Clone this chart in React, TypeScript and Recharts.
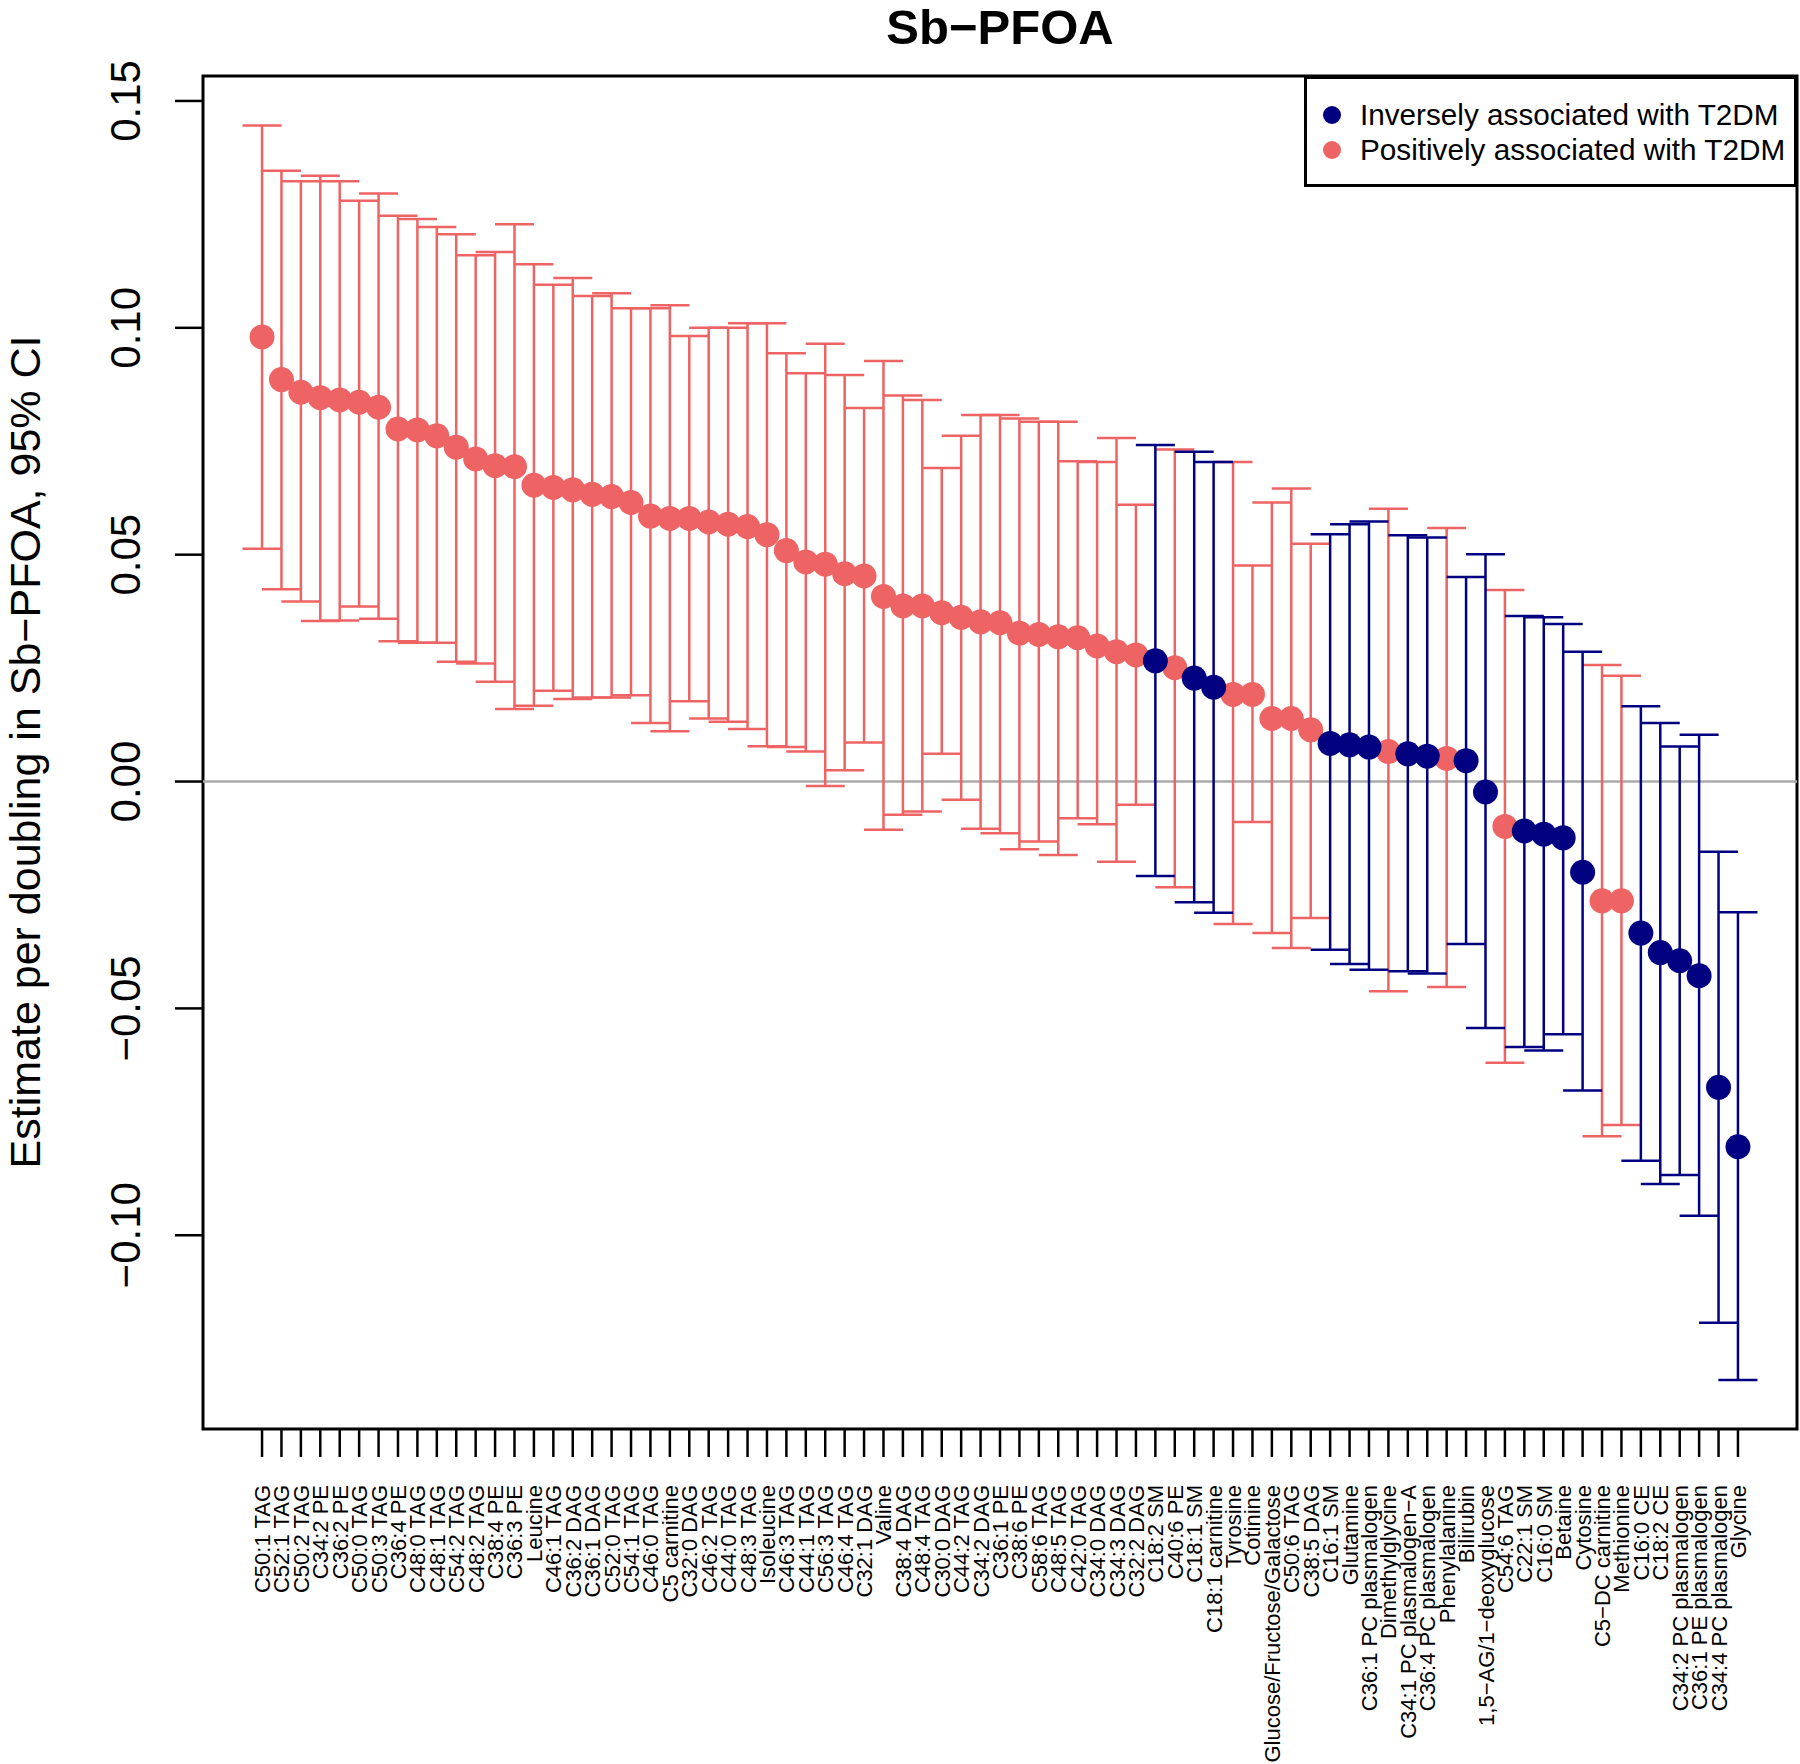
import React from "react";
import {
  ScatterChart,
  Scatter,
  XAxis,
  YAxis,
  ErrorBar,
  ReferenceLine,
  ReferenceArea,
  Legend,
} from "recharts";

const metabolites = [
  "C50:1 TAG", "C52:1 TAG", "C50:2 TAG", "C34:2 PE", "C36:2 PE", "C50:0 TAG", "C50:3 TAG",
  "C36:4 PE", "C48:0 TAG", "C48:1 TAG", "C54:2 TAG", "C48:2 TAG", "C38:4 PE", "C36:3 PE",
  "Leucine", "C46:1 TAG", "C36:2 DAG", "C36:1 DAG", "C52:0 TAG", "C54:1 TAG", "C46:0 TAG",
  "C5 carnitine", "C32:0 DAG", "C46:2 TAG", "C44:0 TAG", "C48:3 TAG", "Isoleucine",
  "C46:3 TAG", "C44:1 TAG", "C56:3 TAG", "C46:4 TAG", "C32:1 DAG", "Valine", "C38:4 DAG",
  "C48:4 TAG", "C30:0 DAG", "C44:2 TAG", "C34:2 DAG", "C36:1 PE", "C38:6 PE", "C58:6 TAG",
  "C48:5 TAG", "C42:0 TAG", "C34:0 DAG", "C34:3 DAG", "C32:2 DAG", "C18:2 SM", "C40:6 PE",
  "C18:1 SM", "C18:1 carnitine", "Tyrosine", "Cotinine", "Glucose/Fructose/Galactose",
  "C50:6 TAG", "C38:5 DAG", "C16:1 SM", "Glutamine", "C36:1 PC plasmalogen",
  "Dimethylglycine", "C34:1 PC plasmalogen\u2212A", "C36:4 PC plasmalogen", "Phenylalanine",
  "Bilirubin", "1,5\u2212AG/1\u2212deoxyglucose", "C54:6 TAG", "C22:1 SM", "C16:0 SM",
  "Betaine", "Cytosine", "C5\u2212DC carnitine", "Methionine", "C16:0 CE", "C18:2 CE",
  "C34:2 PC plasmalogen", "C36:1 PE plasmalogen", "C34:4 PC plasmalogen", "Glycine",
];

const estimates = [
  0.098, 0.0886, 0.0858, 0.0846, 0.0841, 0.0836, 0.0825, 0.0777, 0.0775, 0.0762,
  0.0737, 0.0711, 0.0696, 0.0694, 0.0653, 0.0648, 0.0643, 0.0633, 0.0628, 0.0615,
  0.0585, 0.058, 0.058, 0.0572, 0.0567, 0.0562, 0.0544, 0.0509, 0.0484, 0.0479,
  0.0458, 0.0453, 0.0408, 0.0387, 0.0387, 0.0372, 0.0362, 0.0352, 0.035, 0.0327,
  0.0324, 0.0319, 0.0317, 0.0299, 0.0286, 0.0279, 0.0266, 0.0251, 0.0228, 0.0208,
  0.0192, 0.0192, 0.0139, 0.0139, 0.0114, 0.0084, 0.0081, 0.0076, 0.0066, 0.0061,
  0.0056, 0.0051, 0.0046, -0.0023, -0.0099, -0.0109, -0.0116, -0.0124, -0.02, -0.0263,
  -0.0263, -0.0334, -0.0377, -0.0395, -0.0428, -0.0674, -0.0805,
];

const upperCI = [
  0.1446, 0.1346, 0.1323, 0.1335, 0.1323, 0.128, 0.1296, 0.1247, 0.124, 0.1222,
  0.1206, 0.116, 0.1167, 0.1228, 0.114, 0.1095, 0.111, 0.107, 0.1076, 0.1043,
  0.1043, 0.105, 0.0982, 0.1, 0.1, 0.101, 0.101, 0.0944, 0.09, 0.0965,
  0.0896, 0.0823, 0.0927, 0.0851, 0.0841, 0.0691, 0.0762, 0.0808, 0.0808, 0.08,
  0.0793, 0.0793, 0.0706, 0.0704, 0.0757, 0.061, 0.0742, 0.0732, 0.0727, 0.0704,
  0.0704, 0.0476, 0.0615, 0.0646, 0.0524, 0.0545, 0.0567, 0.0573, 0.0601, 0.0543,
  0.0538, 0.0559, 0.0451, 0.0501, 0.0422, 0.0365, 0.0362, 0.0347, 0.0286, 0.0257,
  0.0233, 0.0166, 0.0129, 0.0077, 0.0103, -0.0155, -0.0288,
];

const lowerCI = [
  0.0513, 0.0424, 0.0397, 0.0354, 0.0355, 0.0386, 0.0359, 0.0309, 0.0306, 0.0306,
  0.0264, 0.026, 0.022, 0.016, 0.0167, 0.02, 0.0182, 0.0185, 0.0185, 0.019,
  0.0129, 0.0111, 0.0177, 0.0139, 0.0132, 0.0116, 0.0078, 0.0076, 0.0066, -0.001,
  0.0025, 0.0086, -0.0106, -0.0073, -0.0066, 0.0061, -0.004, -0.0104, -0.0114, -0.0149,
  -0.0132, -0.0162, -0.0081, -0.0094, -0.0177, -0.0051, -0.0208, -0.0233, -0.0266, -0.0289,
  -0.0314, -0.0089, -0.0334, -0.0367, -0.0301, -0.0371, -0.0402, -0.0415, -0.0462, -0.0418,
  -0.0423, -0.0453, -0.0358, -0.0543, -0.062, -0.0585, -0.0593, -0.0557, -0.0681, -0.0782,
  -0.0757, -0.0836, -0.0887, -0.0867, -0.0957, -0.1193, -0.1319,
];

// "inv" = inversely associated with T2DM, "pos" = positively associated
const association = [
  "pos", "pos", "pos", "pos", "pos", "pos", "pos", "pos", "pos", "pos",
  "pos", "pos", "pos", "pos", "pos", "pos", "pos", "pos", "pos", "pos",
  "pos", "pos", "pos", "pos", "pos", "pos", "pos", "pos", "pos", "pos",
  "pos", "pos", "pos", "pos", "pos", "pos", "pos", "pos", "pos", "pos",
  "pos", "pos", "pos", "pos", "pos", "pos", "inv", "pos", "inv", "inv",
  "pos", "pos", "pos", "pos", "pos", "inv", "inv", "inv", "pos", "inv",
  "inv", "pos", "inv", "inv", "pos", "inv", "inv", "inv", "inv", "pos",
  "pos", "inv", "inv", "inv", "inv", "inv", "inv",
];

const yTicks = [-0.1, -0.05, 0, 0.05, 0.1, 0.15];
const xTicks = metabolites.map((_, i) => i + 1);

const RED = "#EE6363";
const NAVY = "#000080";
const FONT = "'Liberation Sans', Arial, Helvetica, sans-serif";

const X_MIN = -2.04;
const X_MAX = 80.04;
const Y_MIN = -0.1427;
const Y_MAX = 0.1555;

const rows = metabolites.map((name, i) => ({
  x: i + 1,
  y: estimates[i],
  err: [estimates[i] - lowerCI[i], upperCI[i] - estimates[i]],
  group: association[i],
  name,
}));
const posRows = rows.filter((r) => r.group === "pos");
const invRows = rows.filter((r) => r.group === "inv");

const XTick = (props: any) => {
  const { x, y, payload } = props;
  const label = metabolites[payload.value - 1];
  return (
    <text
      transform={`translate(${x + 8},${y}) rotate(-90)`}
      textAnchor="end"
      fontSize={22}
      fontFamily={FONT}
      fill="#000"
    >
      {label}
    </text>
  );
};

const YTick = (props: any) => {
  const { x, y, payload } = props;
  const label = payload.value.toFixed(2).replace("-", "\u2212");
  return (
    <text
      transform={`translate(${x},${y}) rotate(-90)`}
      textAnchor="middle"
      fontSize={42}
      fontFamily={FONT}
      fill="#000"
    >
      {label}
    </text>
  );
};

const noShape = () => <g />;
const dot = (color: string) => (props: any) =>
  <circle cx={props.cx} cy={props.cy} r={12.5} fill={color} />;

const LegendBox = () => (
  <svg width={493} height={111}>
    <rect x={1.5} y={1.5} width={490} height={108} fill="#fff" stroke="#000" strokeWidth={3} />
    <circle cx={28} cy={39} r={9} fill={NAVY} />
    <circle cx={28} cy={74} r={9} fill={RED} />
    <text x={56} y={49} fontSize={29.7} fontFamily={FONT} fill="#000">
      Inversely associated with T2DM
    </text>
    <text x={56} y={84} fontSize={29.7} fontFamily={FONT} fill="#000">
      Positively associated with T2DM
    </text>
  </svg>
);

const App = () => {
  return (
    <div style={{ position: "absolute", left: 0, top: 0, width: 1800, height: 1764, background: "#fff" }}>
      <ScatterChart
        width={1800}
        height={1764}
        margin={{ top: 76, right: 3, bottom: 0, left: 0 }}
      >
        <XAxis
          type="number"
          dataKey="x"
          domain={[X_MIN, X_MAX]}
          ticks={xTicks}
          interval={0}
          allowDataOverflow
          height={335}
          axisLine={false}
          tickSize={28}
          tickMargin={28}
          tickLine={{ stroke: "#000", strokeWidth: 2.5 }}
          tick={<XTick />}
        />
        <YAxis
          type="number"
          dataKey="y"
          domain={[Y_MIN, Y_MAX]}
          ticks={yTicks}
          allowDataOverflow
          width={203}
          axisLine={false}
          tickSize={28}
          tickMargin={35}
          tickLine={{ stroke: "#000", strokeWidth: 2.5 }}
          tick={<YTick />}
        />
        <ReferenceLine y={0} stroke="#aaaaaa" strokeWidth={2.5} />
        <Scatter data={posRows} fill={RED} shape={noShape} isAnimationActive={false}>
          <ErrorBar dataKey="err" direction="y" width={19.5} stroke={RED} strokeWidth={2.5} isAnimationActive={false} />
        </Scatter>
        <Scatter data={invRows} fill={NAVY} shape={noShape} isAnimationActive={false}>
          <ErrorBar dataKey="err" direction="y" width={19.5} stroke={NAVY} strokeWidth={2.5} isAnimationActive={false} />
        </Scatter>
        <Scatter data={posRows} fill={RED} shape={dot(RED)} isAnimationActive={false} />
        <Scatter data={invRows} fill={NAVY} shape={dot(NAVY)} isAnimationActive={false} />
        <ReferenceArea
          x1={X_MIN}
          x2={X_MAX}
          y1={Y_MIN}
          y2={Y_MAX}
          fill="none"
          stroke="#000"
          strokeWidth={3}
          ifOverflow="visible"
        />
        <Legend
          layout="horizontal"
          verticalAlign="middle"
          align="center"
          wrapperStyle={{ left: 1304, top: 76, width: 493, height: 111 }}
          content={() => <LegendBox />}
        />
      </ScatterChart>
      <svg
        width={1800}
        height={1764}
        style={{ position: "absolute", left: 0, top: 0, pointerEvents: "none" }}
      >
        <text x={1000} y={44} textAnchor="middle" fontSize={49} fontWeight="bold" fontFamily={FONT} fill="#000">
          Sb{"\u2212"}PFOA
        </text>
        <text
          transform="translate(40,752) rotate(-90)"
          textAnchor="middle"
          fontSize={43}
          fontFamily={FONT}
          fill="#000"
        >
          Estimate per doubling in Sb{"\u2212"}PFOA, 95% CI
        </text>
      </svg>
    </div>
  );
};

export default App;
